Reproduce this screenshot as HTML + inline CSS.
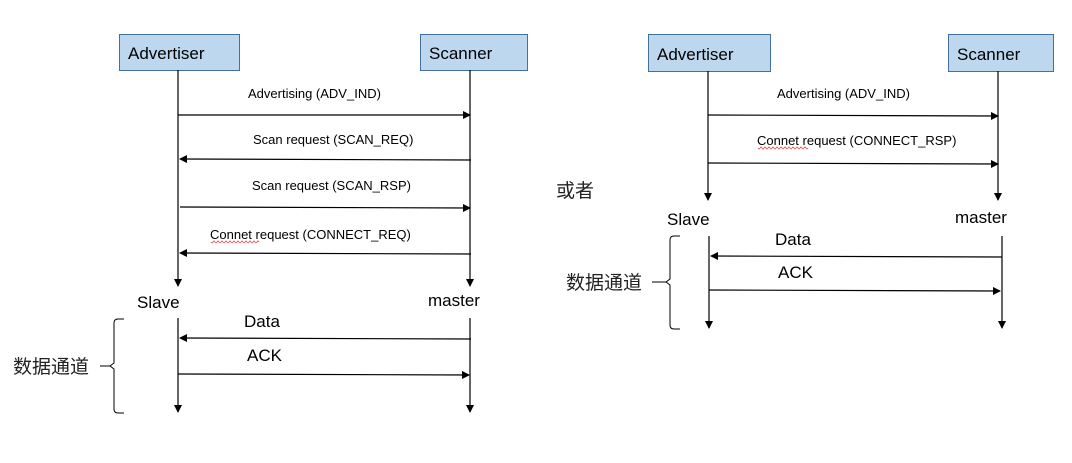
<!DOCTYPE html>
<html><head><meta charset="utf-8"><style>
html,body{margin:0;padding:0;background:#fff;}
svg{display:block;}
text{font-family:"Liberation Sans","Noto Sans CJK SC",sans-serif;fill:#000;}
.s{font-size:13px;}
.m{font-size:17px;}
.c{font-size:19px;font-family:"Noto Sans CJK SC",sans-serif;fill:#222;}
line,path{stroke:#000;stroke-width:1.2;fill:none;}
</style></head><body>
<svg width="1072" height="463" viewBox="0 0 1072 463" xmlns="http://www.w3.org/2000/svg">
<defs>
<marker id="a" markerWidth="8" markerHeight="8" refX="7" refY="4" orient="auto" markerUnits="userSpaceOnUse">
<path d="M0,0 L8,4 L0,8 Z" style="fill:#000;stroke:none"/></marker>
</defs>
<!-- LEFT -->
<rect x="119.5" y="34.5" width="120" height="36" fill="#bdd7ee" stroke="#41719c" stroke-width="1"/>
<text x="128" y="59" class="m">Advertiser</text>
<rect x="420.5" y="34.5" width="107" height="36" fill="#bdd7ee" stroke="#41719c" stroke-width="1"/>
<text x="429" y="59" class="m">Scanner</text>
<line x1="178" y1="70" x2="178" y2="286" marker-end="url(#a)"/>
<line x1="470" y1="70" x2="470" y2="286" marker-end="url(#a)"/>
<text x="248" y="98" class="s">Advertising (ADV_IND)</text>
<line x1="178" y1="115" x2="470" y2="115" marker-end="url(#a)"/>
<text x="253" y="144" class="s">Scan request (SCAN_REQ)</text>
<line x1="471" y1="160" x2="180" y2="159" marker-end="url(#a)"/>
<text x="252" y="190" class="s">Scan request (SCAN_RSP)</text>
<line x1="180" y1="207" x2="470" y2="208" marker-end="url(#a)"/>
<text x="210" y="239" class="s">Connet request (CONNECT_REQ)</text>
<path d="M211,242 q1,2 2,0 t2,0 t2,0 t2,0 t2,0 t2,0 t2,0 t2,0 t2,0 t2,0 t2,0 t2,0 t2,0 t2,0 t2,0 t2,0 t2,0 t2,0 t2,0 t2,0 t2,0 t2,0 t2,0 t2,0" style="stroke:#e03030;stroke-width:0.7"/>
<line x1="471" y1="254" x2="180" y2="253" marker-end="url(#a)"/>
<text x="137" y="308" class="m">Slave</text>
<text x="428" y="306" class="m">master</text>
<line x1="178" y1="318" x2="178" y2="412" marker-end="url(#a)"/>
<line x1="470" y1="318" x2="470" y2="412" marker-end="url(#a)"/>
<text x="244" y="327" class="m">Data</text>
<line x1="471" y1="339" x2="180" y2="338" marker-end="url(#a)"/>
<text x="247" y="361" class="m">ACK</text>
<line x1="178" y1="374" x2="469" y2="375" marker-end="url(#a)"/>
<path d="M124,319 h-6 q-4,0 -4,4 v40 l-4,3 l4,3 v40 q0,4 4,4 h6" style="stroke-width:1"/>
<line x1="100" y1="366" x2="110" y2="366" style="stroke-width:1"/>
<text x="13" y="373" class="c">数据通道</text>
<!-- RIGHT -->
<rect x="648.5" y="34.5" width="122" height="37" fill="#bdd7ee" stroke="#41719c" stroke-width="1"/>
<text x="657" y="60" class="m">Advertiser</text>
<rect x="948.5" y="34.5" width="105" height="37" fill="#bdd7ee" stroke="#41719c" stroke-width="1"/>
<text x="957" y="60" class="m">Scanner</text>
<line x1="708" y1="71" x2="708" y2="200" marker-end="url(#a)"/>
<line x1="998" y1="71" x2="998" y2="200" marker-end="url(#a)"/>
<text x="777" y="98" class="s">Advertising (ADV_IND)</text>
<line x1="708" y1="115" x2="998" y2="116" marker-end="url(#a)"/>
<text x="757" y="145" class="s">Connet request (CONNECT_RSP)</text>
<path d="M758,148 q1,2 2,0 t2,0 t2,0 t2,0 t2,0 t2,0 t2,0 t2,0 t2,0 t2,0 t2,0 t2,0 t2,0 t2,0 t2,0 t2,0 t2,0 t2,0 t2,0 t2,0 t2,0 t2,0 t2,0 t2,0 t2,0" style="stroke:#e03030;stroke-width:0.7"/>
<line x1="708" y1="163" x2="998" y2="164" marker-end="url(#a)"/>
<text x="556" y="197" class="c">或者</text>
<text x="667" y="225" class="m">Slave</text>
<text x="955" y="223" class="m">master</text>
<line x1="709" y1="236" x2="709" y2="328" marker-end="url(#a)"/>
<line x1="1002" y1="236" x2="1002" y2="328" marker-end="url(#a)"/>
<text x="775" y="245" class="m">Data</text>
<line x1="1002" y1="257" x2="711" y2="256" marker-end="url(#a)"/>
<text x="778" y="278" class="m">ACK</text>
<line x1="709" y1="290" x2="1000" y2="291" marker-end="url(#a)"/>
<path d="M680,236 h-6 q-4,0 -4,4 v39 l-4,3 l4,3 v40 q0,4 4,4 h6" style="stroke-width:1"/>
<line x1="652" y1="282" x2="666" y2="282" style="stroke-width:1"/>
<text x="566" y="289" class="c">数据通道</text>
</svg>
</body></html>
